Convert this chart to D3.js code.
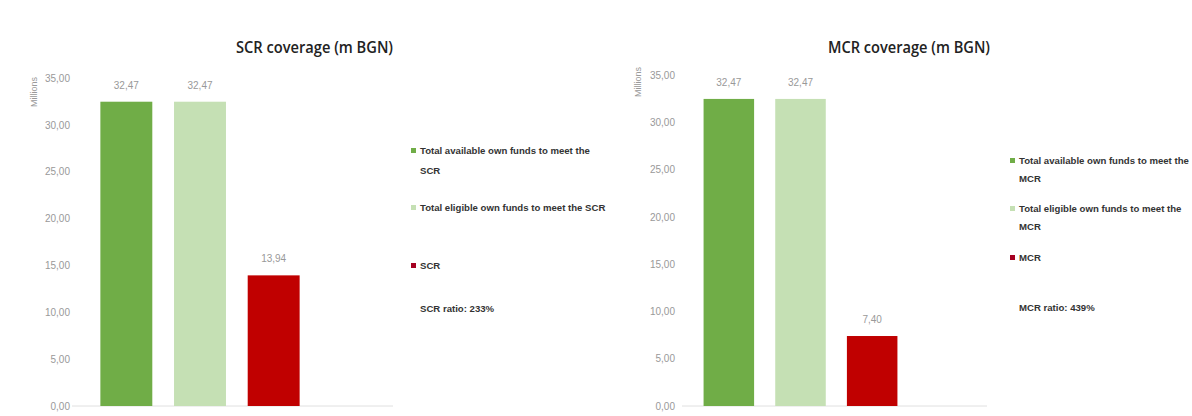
<!DOCTYPE html>
<html><head><meta charset="utf-8">
<script src="https://cdn.jsdelivr.net/npm/d3@7"></script>
<style>
body{margin:0;background:#fff;}
svg{display:block;}
</style></head>
<body>
<svg id="c" width="1192" height="416"></svg>
<script>
const categories = ["Total available own funds", "Total eligible own funds", "Requirement"];
const scrValues = [32.47, 32.47, 13.94];
const mcrValues = [32.47, 32.47, 7.40];
const yTicks = [0, 5, 10, 15, 20, 25, 30, 35];
const colors = ["#70ad47", "#c5e0b4", "#c00000"];
const scrLegend = [["Total available own funds to meet the", "SCR"], ["Total eligible own funds to meet the SCR"], ["SCR"]];
const mcrLegend = [["Total available own funds to meet the", "MCR"], ["Total eligible own funds to meet the", "MCR"], ["MCR"]];
const scrTitle = "SCR coverage (m BGN)";
const mcrTitle = "MCR coverage (m BGN)";
const scrRatio = "SCR ratio: 233%";
const mcrRatio = "MCR ratio: 439%";

const svg = d3.select("#c");
const fmt = v => v.toFixed(2).replace(".", ",");
const narrow = "'Liberation Sans Narrow','Arial Narrow','Liberation Sans',sans-serif";

function drawChart(cfg) {
  const g = svg.append("g");
  const y = d3.scaleLinear().domain([0, 35]).range([406, cfg.yTop]);
  const x = d3.scaleBand().domain(categories).range(cfg.xRange).paddingInner(0.295).paddingOuter(0.1475);

  // title
  g.append("text").attr("x", cfg.titleX).attr("y", 53)
    .attr("font-family", "'Open Sans',sans-serif").attr("font-weight", 600)
    .attr("font-size", 16).attr("fill", "#222")
    .attr("textLength", cfg.titleW).attr("lengthAdjust", "spacingAndGlyphs")
    .text(cfg.title);

  // y axis
  const ax = g.append("g").attr("transform", `translate(${cfg.axisX},0)`)
    .call(d3.axisLeft(y).tickValues(yTicks).tickFormat(fmt).tickSize(0).tickPadding(0));
  ax.select(".domain").remove();
  ax.selectAll("text").attr("font-family", narrow).attr("font-size", 10).attr("fill", "#999");

  // Millions
  g.append("text").attr("transform", `translate(${cfg.millX},${cfg.millY}) rotate(-90)`)
    .attr("text-anchor", "middle").attr("font-family", narrow).attr("font-size", 9).attr("fill", "#999")
    .text("Millions");

  // baseline
  g.append("line").attr("x1", cfg.baseX[0]).attr("x2", cfg.baseX[1]).attr("y1", y(0)).attr("y2", y(0))
    .attr("stroke", "#e0e0e0").attr("stroke-width", 1);

  // bars
  g.selectAll("rect.bar").data(cfg.values).join("rect").attr("class", "bar")
    .attr("x", (d, i) => x(categories[i])).attr("width", x.bandwidth())
    .attr("y", d => y(d)).attr("height", d => y(0) - y(d))
    .attr("fill", (d, i) => colors[i]);

  // labels
  g.selectAll("text.lbl").data(cfg.values).join("text").attr("class", "lbl")
    .attr("x", (d, i) => x(categories[i]) + x.bandwidth() / 2).attr("y", d => y(d) - 13)
    .attr("text-anchor", "middle").attr("font-family", narrow).attr("font-size", 10).attr("fill", "#999")
    .text(fmt);

  // legend
  cfg.legend.forEach((lines, i) => {
    const ly = cfg.legendY[i];
    g.append("rect").attr("x", cfg.legX).attr("y", ly - 6).attr("width", 5).attr("height", 5)
      .attr("fill", i === 2 ? "#a50021" : colors[i]);
    lines.forEach((t, j) => {
      g.append("text").attr("x", cfg.legX + 9).attr("y", ly + j * cfg.lineH)
        .attr("font-family", narrow).attr("font-weight", 700).attr("font-size", 9.6).attr("fill", "#333")
        .text(t);
    });
  });
  g.append("text").attr("x", cfg.legX + 9).attr("y", cfg.ratioY)
    .attr("font-family", narrow).attr("font-weight", 700).attr("font-size", 9.6).attr("fill", "#333")
    .text(cfg.ratio);
}

drawChart({
  title: scrTitle, titleX: 236, titleW: 157, yTop: 78, xRange: [89.5, 310.5],
  axisX: 70, millX: 37, millY: 92, baseX: [72, 393], values: scrValues,
  legend: scrLegend, legX: 411, legendY: [154, 211, 269], lineH: 20, ratioY: 312, ratio: scrRatio
});
drawChart({
  title: mcrTitle, titleX: 828, titleW: 162, yTop: 75, xRange: [693, 908],
  axisX: 675, millX: 641, millY: 82, baseX: [682, 987], values: mcrValues,
  legend: mcrLegend, legX: 1010, legendY: [164, 212, 261], lineH: 18, ratioY: 311, ratio: mcrRatio
});
</script>
</body></html>
